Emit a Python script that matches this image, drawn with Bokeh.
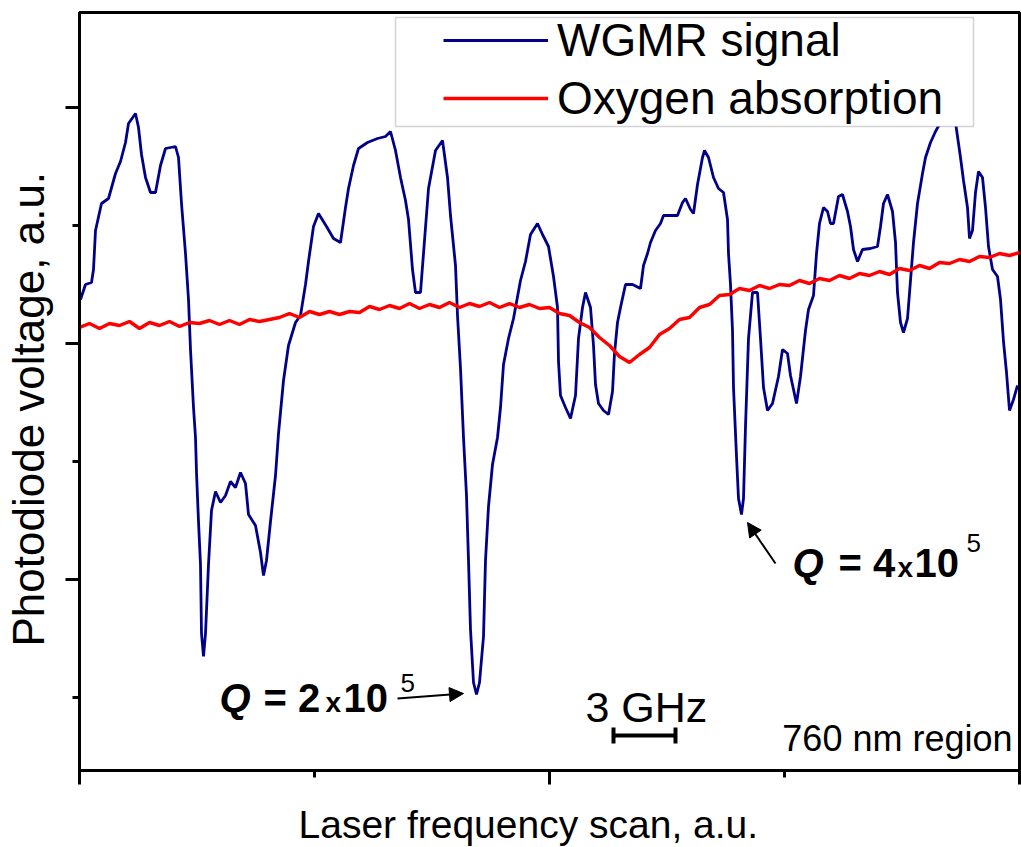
import math
from bokeh.plotting import figure
from bokeh.models import (Range1d, FixedTicker, CustomJSTickFormatter, Label, Arrow,
                          NormalHead, BoxAnnotation, Legend, LegendItem, Title)
from bokeh.embed import file_html
from bokeh.resources import INLINE

# ---------------- data (arbitrary units) ----------------
scan_wgmr = [1, 6, 12, 14, 16, 22, 29, 36, 41, 46,
             49, 56, 59, 62, 66, 71, 76, 81, 86, 96,
             99, 102, 106, 109, 111, 114, 116, 117, 119, 121,
             122, 124, 126, 129, 132, 136, 141, 146, 151, 156,
             161, 166, 169, 176, 181, 184, 187, 191, 196, 199,
             204, 209, 216, 221, 226, 229, 234, 239, 247, 254,
             261, 266, 269, 274, 279, 288, 298, 306, 311, 316,
             321, 326, 329, 333, 336, 341, 344, 349, 356, 363,
             368, 371, 376, 378, 381, 384, 387, 389, 391, 394,
             397, 400, 404, 406, 409, 413, 418, 421, 424, 429,
             434, 441, 446, 451, 458, 463, 469, 474, 478, 479,
             481, 486, 491, 496, 499, 503, 506, 511, 514, 516,
             519, 524, 529, 533, 535, 538, 541, 546, 553, 561,
             564, 568, 571, 576, 581, 584, 591, 598, 603, 606,
             611, 614, 618, 623, 625, 629, 634, 639, 644, 648,
             649, 651, 653, 654, 657, 659, 662, 664, 666, 669,
             673, 678, 681, 684, 688, 693, 699, 703, 708, 711,
             717, 721, 726, 729, 734, 737, 740, 744, 748, 751,
             754, 759, 763, 768, 771, 774, 778, 783, 791, 798,
             801, 804, 808, 813, 816, 818, 821, 824, 828, 831,
             834, 838, 843, 846, 851, 856, 861, 868, 876, 881,
             884, 888, 890, 893, 896, 899, 903, 906, 909, 913,
             918, 921, 924, 927, 930, 934, 938]
wgmr_signal = [471, 486, 488, 501, 540, 567, 572, 597, 609, 628,
               647, 657, 643, 616, 593, 578, 578, 605, 622, 624,
               613, 567, 517, 471, 421, 363, 333, 298, 249, 206,
               137, 114, 137, 206, 260, 279, 268, 275, 289, 283,
               298, 287, 256, 245, 218, 195, 210, 249, 295, 337,
               390, 425, 448, 455, 486, 509, 544, 557, 544, 532,
               528, 563, 582, 605, 622, 628, 632, 634, 639, 620,
               593, 570, 551, 501, 478, 478, 517, 582, 620, 630,
               593, 555, 505, 455, 402, 333, 275, 210, 141, 88,
               76, 88, 134, 210, 264, 306, 333, 363, 406, 432,
               452, 490, 509, 536, 547, 536, 524, 494, 463, 409,
               375, 363, 352, 375, 432, 463, 478, 463, 425, 386,
               367, 360, 356, 379, 417, 448, 463, 486, 486, 482,
               505, 517, 528, 540, 547, 555, 555, 555, 568, 572,
               561, 557, 586, 613, 620, 613, 593, 582, 578, 551,
               517, 486, 440, 383, 314, 272, 256, 272, 344, 432,
               478, 478, 432, 383, 360, 367, 394, 421, 417, 395,
               367, 394, 440, 461, 475, 517, 547, 563, 559, 547,
               547, 574, 576, 559, 544, 521, 509, 521, 522, 524,
               544, 567, 576, 559, 528, 478, 448, 438, 452, 490,
               528, 567, 597, 613, 628, 639, 648, 658, 648, 613,
               590, 563, 532, 540, 578, 599, 593, 563, 524, 501,
               494, 471, 429, 398, 360, 371, 385]

scan_oxygen = list(range(0, 950, 10))
oxygen_signal = [443, 447, 442, 447, 445, 449, 442, 448, 445, 449,
                 444, 448, 447, 450, 446, 450, 446, 451, 449, 451,
                 453, 457, 453, 459, 456, 459, 456, 459, 458, 464,
                 461, 465, 462, 467, 462, 466, 463, 468, 463, 467,
                 464, 468, 463, 467, 463, 466, 462, 463, 457, 455,
                 448, 443, 433, 425, 414, 408, 416, 423, 436, 442,
                 451, 453, 463, 466, 475, 476, 482, 480, 485, 482,
                 486, 485, 490, 487, 492, 490, 495, 492, 497, 495,
                 499, 496, 502, 500, 505, 502, 508, 507, 511, 509,
                 514, 513, 517, 515, 518]

x_major_ticks = [0, 470, 940]
x_minor_ticks = [235, 705]
y_major_ticks = [191, 427, 663]
y_minor_ticks = [73, 309, 545]

FONT = "Liberation Sans"

p = figure(width=1021, height=847, x_range=Range1d(0, 940), y_range=Range1d(0, 758),
           output_backend="svg", toolbar_location=None,
           min_border_left=79, min_border_right=2, min_border_top=12, min_border_bottom=77)
p.grid.visible = False
p.background_fill_color = "white"
p.border_fill_color = "white"
p.outline_line_color = "black"
p.outline_line_width = 3
p.outline_line_alpha = 1.0

blank = CustomJSTickFormatter(code="return ''")
for ax, maj, mnr in ((p.xaxis[0], x_major_ticks, x_minor_ticks),
                     (p.yaxis[0], y_major_ticks, y_minor_ticks)):
    ax.ticker = FixedTicker(ticks=maj, minor_ticks=mnr)
    ax.formatter = blank
    ax.axis_line_width = 3
    ax.axis_line_color = "black"
    ax.major_tick_in = 0
    ax.major_tick_out = 14
    ax.minor_tick_in = 0
    ax.minor_tick_out = 7
    ax.major_tick_line_width = 3
    ax.minor_tick_line_width = 3
    ax.major_tick_line_color = "black"
    ax.minor_tick_line_color = "black"
    ax.major_label_text_font_size = "1px"

# blank axis labels used only as spacers so that the titles sit at the page edge
p.xaxis[0].axis_label = "\u00a0"
p.xaxis[0].axis_label_text_font_size = "9px"
p.xaxis[0].axis_label_standoff = 2
p.yaxis[0].axis_label = "\u00a0"
p.yaxis[0].axis_label_text_font_size = "8px"
p.yaxis[0].axis_label_standoff = 1

# axis titles as offset titles in the side panels
p.add_layout(Title(text="Laser frequency scan, a.u.", align="left", offset=219,
                   vertical_align="bottom", standoff=2, text_font=FONT,
                   text_font_size="39px", text_font_style="normal", text_color="black"),
             "below")
p.add_layout(Title(text="Photodiode voltage, a.u.", align="left", offset=124,
                   vertical_align="bottom", standoff=0, text_font=FONT,
                   text_font_size="44px", text_font_style="normal", text_color="black"),
             "left")

r_blue = p.line(scan_wgmr, wgmr_signal, line_color="#000088", line_width=2.8)
r_red = p.line(scan_oxygen, oxygen_signal, line_color="#ff0000", line_width=3.4)

# scale bar "3 GHz"
p.segment(x0=[534, 534, 596], y0=[35, 27, 27], x1=[596, 534, 596], y1=[35, 43, 43],
          line_color="black", line_width=4)

# legend
box = BoxAnnotation(left=316, right=894, bottom=644, top=753, fill_color="white",
                    fill_alpha=1.0, line_color="#6e6e6e", line_width=1.5)
p.add_layout(box)
legend = Legend(items=[LegendItem(label="WGMR signal", renderers=[r_blue]),
                       LegendItem(label="Oxygen absorption", renderers=[r_red])],
                location=(364, 645), orientation="vertical", padding=0, margin=0,
                spacing=4, label_height=52, glyph_width=105, glyph_height=20,
                label_standoff=9, label_text_font=FONT, label_text_font_size="46px",
                label_text_color="black", border_line_alpha=0, background_fill_alpha=0)
p.add_layout(legend, "center")


def lab(x, y, text, size, style="normal", align="left"):
    p.add_layout(Label(x=x, y=y, text=text, text_font=FONT, text_font_size=size,
                       text_font_style=style, text_align=align,
                       text_baseline="alphabetic", text_color="black"))


# text annotations
lab(506, 64, "3 GHz", "43px")
lab(933, 32, "760 nm region", "36px", align="right")

# Q = 2x10^5
lab(140, 73, "Q", "40px", style="bold italic")
lab(184, 73, "= 2", "40px", style="bold")
lab(246, 68, "x", "28px", style="bold")
lab(264, 73, "10", "40px", style="bold")
lab(321, 88, "5", "26px")
# Q = 4x10^5
lab(713, 208, "Q", "40px", style="bold italic")
lab(759, 208, "= 4", "40px", style="bold")
lab(818, 203, "x", "28px", style="bold")
lab(835, 208, "10", "40px", style="bold")
lab(887, 228, "5", "26px")

for xs, ys, xe, ye in ((318, 72, 384, 77), (696, 207, 668, 248)):
    p.add_layout(Arrow(end=NormalHead(size=14, fill_color="black", line_color="black"),
                       x_start=xs, y_start=ys, x_end=xe, y_end=ye,
                       line_width=2, line_color="black"))

open("out.html", "w").write(file_html(p, INLINE))
